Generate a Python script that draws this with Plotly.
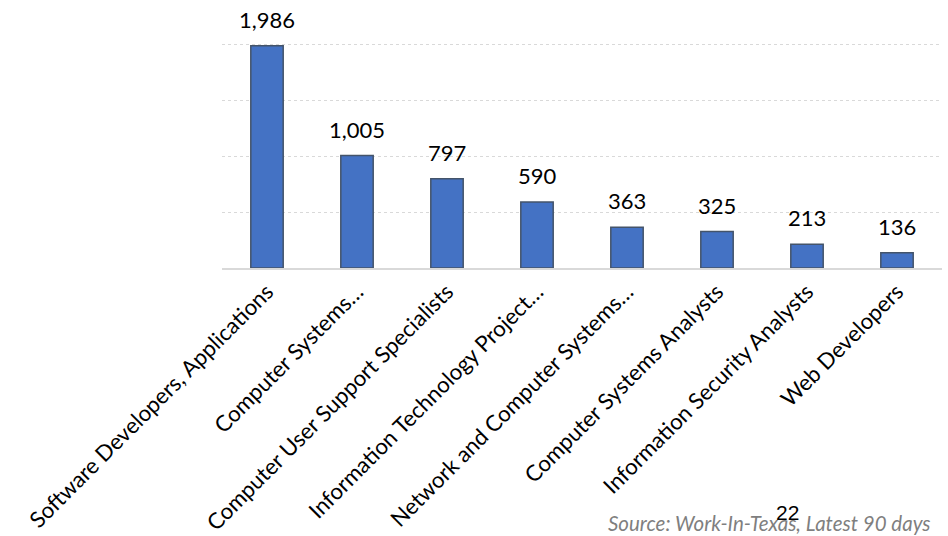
import plotly.graph_objects as go

categories = [
    "Software Developers, Applications",
    "Computer Systems…",
    "Computer User Support Specialists",
    "Information Technology Project…",
    "Network and Computer Systems…",
    "Computer Systems Analysts",
    "Information Security Analysts",
    "Web Developers",
]
values = [1986, 1005, 797, 590, 363, 325, 213, 136]
labels = [f"{v:,}" for v in values]

FONT = "Lato, Carlito, 'Open Sans', sans-serif"

fig = go.Figure()
fig.add_trace(go.Bar(
    x=categories, y=values,
    marker=dict(color="#4472C4", line=dict(color="#44546A", width=1.5)),
    width=0.36,
    hoverinfo="skip",
))

for c, v, t in zip(categories, values, labels):
    fig.add_annotation(x=c, y=v, text=t, showarrow=False, yanchor="bottom",
                       yshift=11, font=dict(family=FONT, size=22, color="#000000"))

fig.add_annotation(xref="paper", yref="paper", x=0.785, xanchor="center", y=-1.085,
                   yanchor="middle", text="22", showarrow=False,
                   font=dict(family="Liberation Sans, Arial, sans-serif", size=21, color="#000000"))

fig.add_annotation(xref="paper", yref="paper", x=0.9875, xanchor="right", y=-1.132,
                   yanchor="middle", text="<i>Source: Work-In-Texas, Latest 90 days</i>",
                   showarrow=False, font=dict(family=FONT, size=20.5, color="#7F7F7F"))

fig.update_layout(
    width=948, height=536,
    margin=dict(l=222, r=6, t=43, b=268, autoexpand=False),
    paper_bgcolor="white", plot_bgcolor="white",
    showlegend=False,
    font=dict(family=FONT, size=22, color="#000000"),
)
fig.update_xaxes(tickangle=-45, tickfont=dict(family=FONT, size=22.2, color="#000000"),
                 automargin=False,
                 showline=True, linecolor="#D9D9D9", linewidth=2, ticks="", showgrid=False)
fig.update_yaxes(range=[0, 2010], tickvals=[500, 1000, 1500, 2000], showticklabels=False,
                 automargin=False,
                 showgrid=True, gridcolor="#D9D9D9", griddash="dot", gridwidth=1,
                 zeroline=False, showline=False)

fig.write_html("out.html")
